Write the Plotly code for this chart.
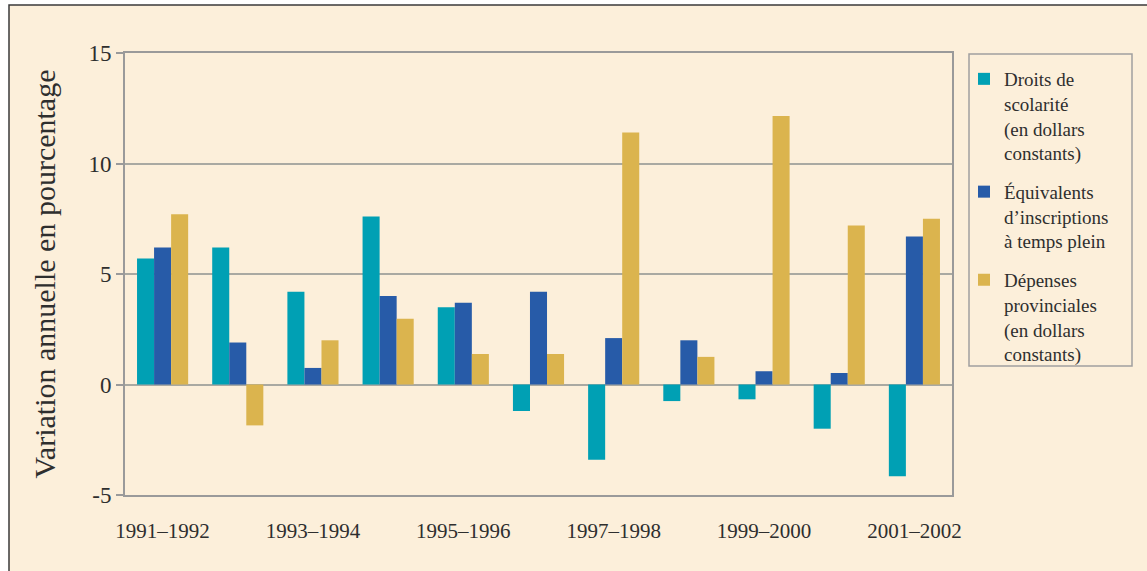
import numpy as np
import plotly.graph_objects as go

categories = ["1991–1992", "1992–1993", "1993–1994", "1994–1995", "1995–1996",
              "1996–1997", "1997–1998", "1998–1999", "1999–2000", "2000–2001",
              "2001–2002"]
tick_labels = ["1991–1992", "1993–1994", "1995–1996", "1997–1998", "1999–2000", "2001–2002"]

droits = [5.7, 6.2, 4.2, 7.6, 3.5, -1.2, -3.4, -0.75, -0.67, -2.0, -4.15]
equivalents = [6.2, 1.9, 0.75, 4.0, 3.7, 4.2, 2.1, 2.0, 0.6, 0.52, 6.7]
depenses = [7.7, -1.85, 2.0, 2.97, 1.38, 1.38, 11.4, 1.25, 12.15, 7.2, 7.5]

names = ["Droits de<br>scolarité<br>(en dollars<br>constants)",
         "Équivalents<br>d’inscriptions<br>à temps plein",
         "Dépenses<br>provinciales<br>(en dollars<br>constants)"]
colors = ["#00a0b4", "#275ba8", "#dbb44e"]

W, H = 1147, 571
L, R, T, B = 125, 195, 53, 76
PW, PH = W - L - R, H - T - B


def px(x):
    return (x - L) / PW


def py(y):
    return (H - B - y) / PH


FONT = "Liberation Serif"
TXT = "#2e2e2e"
GRID = "#a9a9a2"

fig = go.Figure()
for i, (vals, name, col) in enumerate(zip([droits, equivalents, depenses], names, colors)):
    fig.add_trace(go.Bar(x=categories, y=vals, name=name, marker_color=col,
                         marker_line_width=0, legendgroup=f"g{i}"))

n = len(categories)
fig.update_layout(
    width=W, height=H,
    margin=dict(l=L, r=R, t=T, b=B, pad=0),
    paper_bgcolor="white",
    plot_bgcolor="#f4f3d6",
    barmode="group", bargap=0.32, bargroupgap=0,
    font=dict(family=FONT, color=TXT),
    showlegend=True,
    legend=dict(x=px(964), y=py(60), xanchor="left", yanchor="top",
                bgcolor="rgba(0,0,0,0)", borderwidth=0,
                font=dict(family=FONT, size=19, color=TXT),
                valign="top", tracegroupgap=11, itemclick=False),
    xaxis=dict(type="category", tickvals=tick_labels, ticktext=tick_labels,
               tickfont=dict(size=21, family=FONT, color=TXT),
               showline=True, linecolor="#9a9a9a", linewidth=2, mirror=True,
               ticks="", ticklabelstandoff=16, showgrid=False, zeroline=False),
    yaxis=dict(range=[-5, 15], tickvals=[-5, 0, 5, 10, 15],
               ticktext=["-5", "0", "5", "10", "15"],
               tickfont=dict(size=23, family=FONT, color=TXT),
               ticks="outside", ticklen=7, tickcolor="#9a9a9a", tickwidth=1.5,
               showline=True, linecolor="#9a9a9a", linewidth=2, mirror=True,
               showgrid=True, gridcolor=GRID, gridwidth=1.5, zeroline=False,
               title=dict(text="Variation annuelle en pourcentage",
                          font=dict(size=30, family=FONT, color=TXT), standoff=24)),
    xaxis2=dict(overlaying="x", anchor="free", position=0.25, side="bottom",
                range=[-0.5, n - 0.5], tickvals=list(np.arange(-0.5, n, 0.5)),
                ticks="outside", ticklen=6, tickcolor="#9a9a9a", tickwidth=1.5,
                showticklabels=False, showline=True, linecolor="#9a9a9a",
                linewidth=2, showgrid=False, zeroline=False),
    xaxis3=dict(overlaying="x", anchor="free", position=0.25, side="bottom",
                range=[-0.5, n - 0.5], tickvals=list(range(n)),
                ticks="inside", ticklen=5, tickcolor="#9a9a9a", tickwidth=1.5,
                showticklabels=False, showline=False, showgrid=False, zeroline=False),
    shapes=[
        dict(type="rect", xref="paper", yref="paper",
             x0=px(9), y0=py(H + 20), x1=px(W + 20), y1=py(5),
             fillcolor="#fcefda", line=dict(color="#3a3a3a", width=1.5), layer="below"),
        dict(type="rect", xref="paper", yref="paper",
             x0=px(969), y0=py(366), x1=px(1132), y1=py(54),
             fillcolor="rgba(0,0,0,0)", line=dict(color="#a0a0a0", width=1.5)),
    ],
)

fig.write_html("out.html", config={"displayModeBar": False},
               post_script="document.body.style.margin='0';document.body.style.overflow='hidden';")
